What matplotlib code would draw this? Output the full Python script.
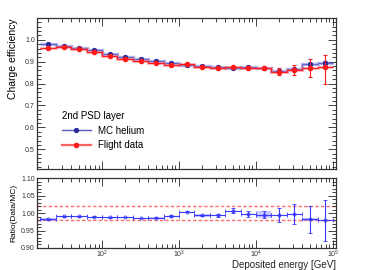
import numpy as np
import matplotlib
matplotlib.use("Agg")
import matplotlib.pyplot as plt
from matplotlib.ticker import MultipleLocator, LogLocator, NullFormatter
from matplotlib.lines import Line2D

plt.rcParams['font.family'] = ['Liberation Sans', 'DejaVu Sans']
plt.rcParams['mathtext.fontset'] = 'custom'
plt.rcParams['mathtext.rm'] = 'Liberation Sans'

# bin edges in log10(E / GeV), 0.2 decade bins
log_edges = [1.2, 1.4, 1.6, 1.8, 2.0, 2.2, 2.4, 2.6, 2.8, 3.0,
             3.2, 3.4, 3.6, 3.8, 4.0, 4.2, 4.4, 4.6, 4.8, 5.0]

mc_eff = [0.980, 0.973, 0.964, 0.953, 0.935, 0.923, 0.913, 0.905, 0.892, 0.884,
          0.882, 0.874, 0.872, 0.875, 0.873, 0.859, 0.865, 0.889, 0.896]
mc_err = [0.002, 0.002, 0.002, 0.002, 0.002, 0.002, 0.002, 0.002, 0.002, 0.002,
          0.002, 0.002, 0.002, 0.002, 0.003, 0.003, 0.005, 0.007, 0.009]

data_eff = [0.963, 0.966, 0.957, 0.945, 0.926, 0.914, 0.901, 0.893, 0.887, 0.888,
            0.877, 0.871, 0.878, 0.873, 0.869, 0.855, 0.862, 0.873, 0.877]
data_err_lo = [0.001, 0.001, 0.001, 0.001, 0.001, 0.001, 0.001, 0.001, 0.002, 0.002,
               0.002, 0.003, 0.004, 0.006, 0.009, 0.018, 0.025, 0.043, 0.080]
data_err_hi = [0.001, 0.001, 0.001, 0.001, 0.001, 0.001, 0.001, 0.001, 0.002, 0.002,
               0.002, 0.003, 0.004, 0.006, 0.009, 0.016, 0.025, 0.041, 0.053]

ratio = [0.982, 0.991, 0.991, 0.990, 0.988, 0.989, 0.986, 0.987, 0.991, 1.004,
         0.993, 0.994, 1.007, 0.997, 0.995, 0.995, 0.997, 0.982, 0.979]
ratio_err = [0.001, 0.001, 0.001, 0.001, 0.001, 0.001, 0.001, 0.001, 0.002, 0.002,
             0.002, 0.004, 0.006, 0.008, 0.010, 0.020, 0.029, 0.039, 0.058]
ratio_box = [0.004, 0.0, 0.0, 0.0, 0.0, 0.0, 0.0, 0.003, 0.0, 0.0,
             0.003, 0.0, 0.0, 0.0, 0.010, 0.0, 0.0, 0.004, 0.0]

ratio_band = [0.98, 1.02]

edges = 10 ** np.array(log_edges)
centers = np.sqrt(edges[:-1] * edges[1:])
xlo = centers - edges[:-1]
xhi = edges[1:] - centers

BLUE_DARK = '#2b2b9c'
BLUE_LINE = '#5a5ac8'
RED = '#ff1a1a'
RATIO_BLUE = '#3a3aff'

fig = plt.figure(figsize=(3.74, 2.70), dpi=100)
ax1 = fig.add_axes([0.099, 0.374, 0.799, 0.559])
ax2 = fig.add_axes([0.099, 0.0815, 0.799, 0.259])

XLIM = (14.3, 1.09e5)


def style_axis(ax):
    ax.set_xscale('log')
    ax.set_xlim(*XLIM)
    ax.xaxis.set_major_locator(LogLocator(base=10, numticks=10))
    ax.xaxis.set_minor_locator(LogLocator(base=10, subs=np.arange(2, 10), numticks=20))
    ax.xaxis.set_minor_formatter(NullFormatter())
    ax.tick_params(which='both', direction='in', top=True, right=True,
                   labelsize=5, colors='#222222', labelcolor='#333333',
                   width=0.6, pad=1.5)
    ax.tick_params(which='major', length=6)
    ax.tick_params(which='minor', length=3)
    for s in ax.spines.values():
        s.set_linewidth(0.9)
        s.set_color('#333333')


# --- top panel: efficiencies ---
ax1.stairs(mc_eff, edges, baseline=None, color=BLUE_LINE, lw=2.4, alpha=0.45, zorder=2)
ax1.stairs(mc_eff, edges, baseline=None, color=BLUE_LINE, lw=0.7, alpha=0.9, zorder=2)
ax1.stairs(data_eff, edges, baseline=None, color='#ff6060', lw=2.0, alpha=0.5, zorder=3)
ax1.stairs(data_eff, edges, baseline=None, color=RED, lw=0.7, zorder=3)
ax1.errorbar(centers, mc_eff, yerr=mc_err, fmt='o', ms=2.8, color=BLUE_DARK,
             ecolor=BLUE_LINE, elinewidth=0.8, capsize=1.2, zorder=4)
ax1.errorbar(centers, data_eff, yerr=[data_err_lo, data_err_hi], fmt='o', ms=3.0,
             color=RED, ecolor=RED, elinewidth=0.8, capsize=1.5, capthick=0.8, zorder=5)

style_axis(ax1)
ax1.set_ylim(0.41, 1.099)
ax1.yaxis.set_major_locator(MultipleLocator(0.1))
ax1.yaxis.set_minor_locator(MultipleLocator(0.02))
ax1.yaxis.set_major_formatter(plt.FuncFormatter(lambda v, p: f'{v:.1f}'))
ax1.tick_params(labelbottom=False)
ax1.set_ylabel('Charge efficiency', fontsize=7.5, labelpad=5, loc='top')

h_mc = Line2D([], [], color=BLUE_LINE, lw=1.0, marker='o', ms=2.8,
              markerfacecolor=BLUE_DARK, markeredgecolor=BLUE_DARK)
h_data = Line2D([], [], color='#ff6060', lw=1.6, marker='o', ms=3.0,
                markerfacecolor=RED, markeredgecolor=RED)
leg = ax1.legend([h_mc, h_data], ['MC helium', 'Flight data'], title='2nd PSD layer',
                 loc='lower left', bbox_to_anchor=(0.07, 0.1), frameon=False,
                 fontsize=7, title_fontsize=7, handlelength=3.0, handletextpad=0.7,
                 labelspacing=0.45, alignment='left', borderaxespad=0)

# --- bottom panel: ratio ---
for y in ratio_band:
    ax2.axhline(y, color='#ff7070', lw=1.0, ls=(0, (2.5, 1.5)), zorder=1)
for c, lo, hi, r, b in zip(centers, xlo, xhi, ratio, ratio_box):
    if b > 0:
        ax2.fill_between([c - lo, c + hi], r - b, r + b, color='#8a8aff',
                         alpha=0.45, lw=0, zorder=2)
ax2.errorbar(centers, ratio, xerr=[xlo, xhi], yerr=ratio_err, fmt='o', ms=2.2,
             mfc='none', mec=RATIO_BLUE, mew=0.6, ecolor=RATIO_BLUE,
             elinewidth=0.8, capsize=1.2, capthick=0.6, zorder=3)

style_axis(ax2)
ax2.tick_params(axis='x', which='both', pad=0.8)
ax2.set_ylim(0.90, 1.10)
ax2.yaxis.set_major_locator(MultipleLocator(0.05))
ax2.yaxis.set_minor_locator(MultipleLocator(0.01))
ax2.yaxis.set_major_formatter(plt.FuncFormatter(lambda v, p: f'{v:.2f}'))
ax2.set_ylabel('Ratio(Data/MC)', fontsize=6, labelpad=3)
fig.text(336 / 374, 1 - 265 / 270, 'Deposited energy [GeV]', fontsize=7,
         ha='right', va='center', color='#222222')

fig.savefig('out.png', dpi=100)
